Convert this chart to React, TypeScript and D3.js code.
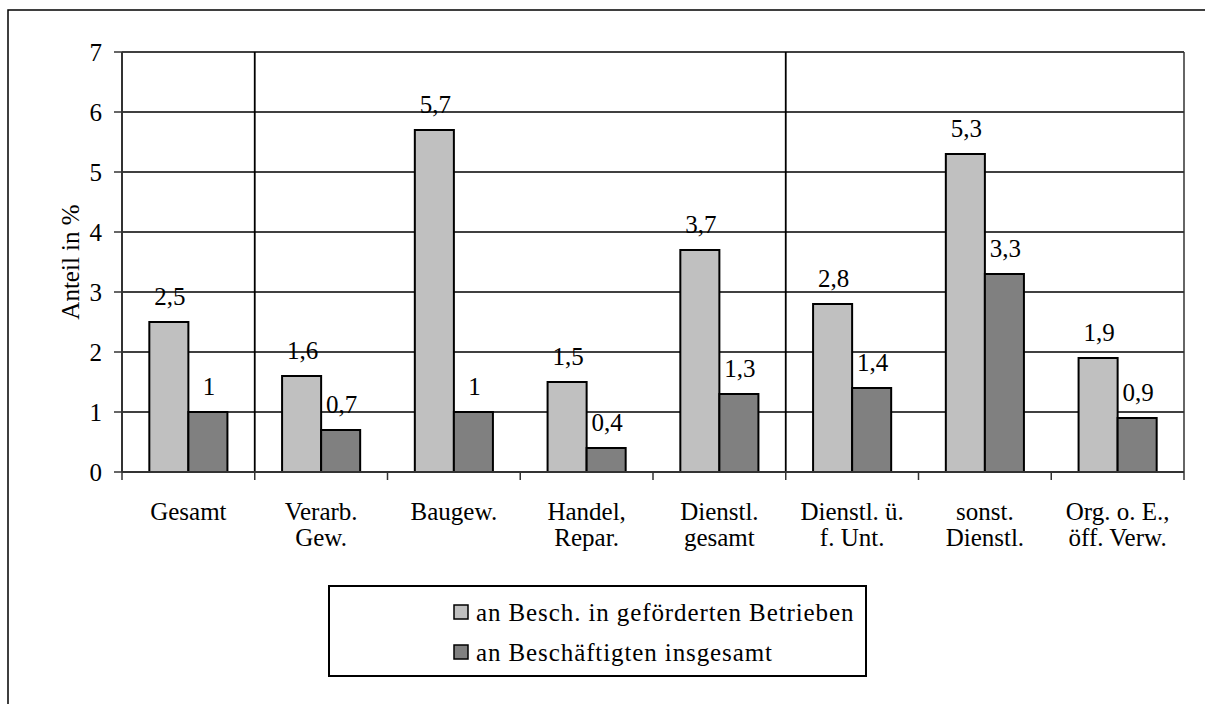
import React from 'react';
import * as d3 from 'd3';

// categories (multi-line labels)
const categories = [
  ['Gesamt'],
  ['Verarb.', 'Gew.'],
  ['Baugew.'],
  ['Handel,', 'Repar.'],
  ['Dienstl.', 'gesamt'],
  ['Dienstl. ü.', 'f. Unt.'],
  ['sonst.', 'Dienstl.'],
  ['Org. o. E.,', 'öff. Verw.'],
];
const seriesNames = ['an Besch. in geförderten Betrieben', 'an Beschäftigten insgesamt'];
const foerderBetriebe = [2.5, 1.6, 5.7, 1.5, 3.7, 2.8, 5.3, 1.9];
const insgesamt = [1, 0.7, 1, 0.4, 1.3, 1.4, 3.3, 0.9];
const yTicks = [0, 1, 2, 3, 4, 5, 6, 7];
// dividing lines after these category indexes
const dividers = [1, 5];

const colors = ['#c0c0c0', '#808080'];
const font = 'Liberation Serif, Times New Roman, serif';

const App = () => {
  const width = 1205;
  const height = 704;
  const plot = { left: 122, right: 1184, top: 52, bottom: 472 };

  const keys = categories.map((c, i) => String(i));
  const x = d3.scaleBand().domain(keys).range([plot.left, plot.right]);
  const xInner = d3.scaleBand().domain(['0', '1']).range([0, x.bandwidth()]).paddingInner(0).paddingOuter(0.7);
  const y = d3.scaleLinear().domain([0, 7]).range([plot.bottom, plot.top]);
  const series = [foerderBetriebe, insgesamt];
  const fmt = (v: number) => String(v).replace('.', ',');

  const step = x.step();
  const boundaries = d3.range(categories.length + 1).map((i) => plot.left + i * step);

  return (
    <svg width={width} height={height} style={{ position: 'absolute', left: 0, top: 0, background: '#fff', fontFamily: font }}>
      <rect x={0} y={0} width={width} height={height} fill="#fff" />
      {/* outer frame */}
      <rect x={8} y={10} width={width} height={height} fill="none" stroke="#000" strokeWidth={1.5} />

      {/* gridlines */}
      {yTicks.map((t) => (
        <line key={'g' + t} x1={plot.left} x2={plot.right} y1={y(t)} y2={y(t)} stroke="#000" strokeWidth={1.3} />
      ))}
      {/* plot border right */}
      <line x1={plot.right} x2={plot.right} y1={plot.top} y2={plot.bottom} stroke="#333" strokeWidth={1.5} />
      {/* dividers */}
      {dividers.map((d) => (
        <line key={'d' + d} x1={plot.left + d * step} x2={plot.left + d * step} y1={plot.top} y2={plot.bottom}
          stroke="#000" strokeWidth={1.8} />
      ))}

      {/* bars */}
      {series.map((vals, s) =>
        vals.map((v, i) => {
          const bx = (x(String(i)) as number) + (xInner(String(s)) as number);
          return (
            <rect key={`b${s}-${i}`} x={bx} y={y(v)} width={xInner.bandwidth()} height={y(0) - y(v)}
              fill={colors[s]} stroke="#000" strokeWidth={2} />
          );
        })
      )}

      {/* value labels */}
      {series.map((vals, s) =>
        vals.map((v, i) => {
          const cx = (x(String(i)) as number) + (xInner(String(s)) as number) + xInner.bandwidth() / 2;
          return (
            <text key={`l${s}-${i}`} x={cx + 1} y={y(v) - 17} textAnchor="middle" fontSize={25} fill="#000">
              {fmt(v)}
            </text>
          );
        })
      )}

      {/* axes */}
      <line x1={plot.left} x2={plot.left} y1={plot.top} y2={plot.bottom} stroke="#333" strokeWidth={2} />
      <line x1={plot.left} x2={plot.right} y1={plot.bottom} y2={plot.bottom} stroke="#333" strokeWidth={2} />
      {yTicks.map((t) => (
        <g key={'yt' + t}>
          <line x1={plot.left - 8} x2={plot.left} y1={y(t)} y2={y(t)} stroke="#333" strokeWidth={1.5} />
          <text x={102} y={y(t)} dy="0.35em" textAnchor="end" fontSize={25}>{t}</text>
        </g>
      ))}
      {boundaries.map((bx, i) => (
        <line key={'xt' + i} x1={bx} x2={bx} y1={plot.bottom} y2={plot.bottom + 8} stroke="#333" strokeWidth={1.5} />
      ))}
      {categories.map((lines, i) => (
        <text key={'c' + i} x={(x(String(i)) as number) + x.bandwidth() / 2} y={520} textAnchor="middle"
          fontSize={25}>
          {lines.map((l, j) => (
            <tspan key={j} x={(x(String(i)) as number) + x.bandwidth() / 2} dy={j === 0 ? 0 : 26}>{l}</tspan>
          ))}
        </text>
      ))}

      <text transform={`translate(79,${(plot.top + plot.bottom) / 2}) rotate(-90)`} textAnchor="middle"
        fontSize={25}>Anteil in %</text>

      {/* legend */}
      <rect x={329} y={586} width={537} height={90} fill="#fff" stroke="#000" strokeWidth={2} />
      {seriesNames.map((n, s) => (
        <g key={'lg' + s} transform={`translate(454,${612 + s * 40})`}>
          <rect x={0} y={-7} width={14} height={14} fill={colors[s]} stroke="#000" strokeWidth={1.5} />
          <text x={22} y={0} dy="0.35em" fontSize={25} letterSpacing={0.9}>{n}</text>
        </g>
      ))}
    </svg>
  );
};

export default App;
